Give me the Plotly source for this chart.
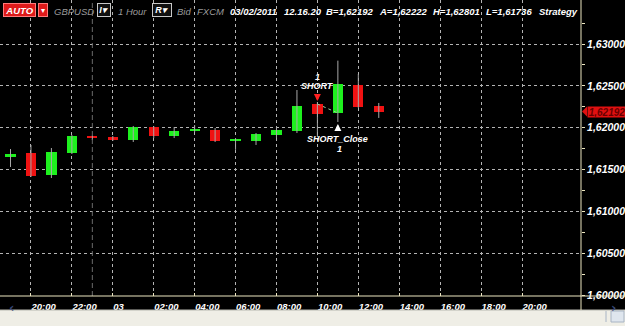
import plotly.graph_objects as go
from datetime import datetime, timedelta

# ---------------- data ----------------
times = ["2011-03-02 19:00", "2011-03-02 20:00", "2011-03-02 21:00", "2011-03-02 22:00",
         "2011-03-02 23:00", "2011-03-03 00:00", "2011-03-03 01:00", "2011-03-03 02:00",
         "2011-03-03 03:00", "2011-03-03 04:00", "2011-03-03 05:00", "2011-03-03 06:00",
         "2011-03-03 07:00", "2011-03-03 08:00", "2011-03-03 09:00", "2011-03-03 10:00",
         "2011-03-03 11:00", "2011-03-03 12:00", "2011-03-03 13:00"]
opens = [1.61649, 1.61697, 1.61434, 1.61697, 1.61893, 1.61888, 1.61853, 1.62008, 1.61900,
         1.61966, 1.61972, 1.61847, 1.61841, 1.61912, 1.61960, 1.62283, 1.62175, 1.62510, 1.62259]
highs = [1.61745, 1.61793, 1.61757, 1.61912, 1.61905, 1.61900, 1.62020, 1.62020, 1.62008,
         1.62032, 1.61996, 1.61876, 1.61936, 1.62008, 1.62450, 1.62307, 1.62801, 1.62641, 1.62295]
lows = [1.61530, 1.61410, 1.61398, 1.61685, 1.61852, 1.61841, 1.61829, 1.61876, 1.61876,
        1.61948, 1.61829, 1.61736, 1.61793, 1.61876, 1.61936, 1.61888, 1.62068, 1.62235, 1.62116]
closes = [1.61685, 1.61422, 1.61709, 1.61900, 1.61883, 1.61853, 1.62008, 1.61900, 1.61960,
          1.61975, 1.61841, 1.61856, 1.61924, 1.61972, 1.62259, 1.62163, 1.62522, 1.62247, 1.62192]

short_entry_time = "2011-03-03 10:00"
short_entry_price = 1.62283
short_exit_time = "2011-03-03 11:00"
short_exit_price = 1.62175
short_exit_bar_low = 1.62068
short_label = "SHORT"
short_close_label = "SHORT_Close"
trade_qty = "1"

session_break_time = "2011-03-02 23:00"
last_price = 1.62192
last_price_label = "1,62192"

x_tick_times = ["2011-03-02 20:00", "2011-03-02 22:00", "2011-03-03 00:00", "2011-03-03 02:00",
                "2011-03-03 04:00", "2011-03-03 06:00", "2011-03-03 08:00", "2011-03-03 10:00",
                "2011-03-03 12:00", "2011-03-03 14:00", "2011-03-03 16:00", "2011-03-03 18:00",
                "2011-03-03 20:00"]
x_tick_labels = ["20:00", "22:00", "03", "02:00", "04:00", "06:00", "08:00", "10:00",
                 "12:00", "14:00", "16:00", "18:00", "20:00"]
y_tick_vals = [1.600, 1.605, 1.610, 1.615, 1.620, 1.625, 1.630]
y_minor_vals = [1.6025, 1.6075, 1.6125, 1.6175, 1.6225, 1.6275, 1.6325]

header_gray = ["GBPUSD", "1 Hour", "Bid", "FXCM"]
header_white = ["03/02/2011", "12.16.20", "B=1,62192", "A=1,62222", "H=1,62801", "L=1,61736", "Strategy"]

# ---------------- styling ----------------
GREEN = "#1ef01e"
RED = "#f01212"
WICK = "#a8a8a8"
AXIS = "#ece6c0"
GRID = "#b4b4b4"
FONT = "Liberation Sans"
PW, PH = 581, 296


def xp(px):
    return px / PW


def yp(py):
    return (PH - py) / PH


fig = go.Figure()

# wicks
wx, wy = [], []
for t, h, l in zip(times, highs, lows):
    wx += [t, t, None]
    wy += [l, h, None]
fig.add_trace(go.Scatter(x=wx, y=wy, mode="lines", line=dict(color=WICK, width=1),
                         hoverinfo="skip"))

# bodies
min_body = 0.00015
body_h, body_base, body_col = [], [], []
for o, c in zip(opens, closes):
    h = max(abs(c - o), min_body)
    body_h.append(h)
    body_base.append((o + c) / 2 - h / 2)
    body_col.append(GREEN if c >= o else RED)
fig.add_trace(go.Bar(x=times, y=body_h, base=body_base, width=1.8e6,
                     marker=dict(color=body_col, line=dict(width=0)), hoverinfo="skip"))

# trade line
fig.add_trace(go.Scatter(x=[short_entry_time, short_exit_time],
                         y=[short_entry_price, short_exit_price], mode="lines",
                         line=dict(color="#9ccf9c", width=1, dash="dot"), hoverinfo="skip"))

base = datetime(2011, 3, 3)
x_range = [base + timedelta(hours=-112.8 / 20.46), base + timedelta(hours=(PW - 112.8) / 20.46)]
y_range = [1.60 - 0.00011952, 1.60 + 295 * 0.00011952]

tick_font = dict(family=FONT, size=9.5, color="white", weight="bold", style="italic")

fig.update_layout(
    width=625, height=326,
    margin=dict(l=0, r=625 - PW, t=0, b=326 - PH),
    paper_bgcolor="black", plot_bgcolor="black",
    showlegend=False, separators=",.", bargap=0,
    xaxis=dict(type="date", range=x_range, tickmode="array", tickvals=x_tick_times,
               ticktext=x_tick_labels, ticks="inside", ticklen=3, tickcolor=AXIS,
               ticklabelposition="outside right", ticklabelstandoff=3, tickfont=tick_font,
               showgrid=True, gridcolor=GRID, griddash="dot", gridwidth=1,
               showline=False, zeroline=False, fixedrange=True),
    yaxis=dict(side="right", range=y_range, tickmode="array", tickvals=y_tick_vals,
               tickformat=".5f", ticks="outside", ticklen=3, tickcolor=AXIS,
               minor=dict(tickmode="array", tickvals=y_minor_vals, ticks="outside",
                          ticklen=3, tickcolor=AXIS, showgrid=False),
               tickfont=dict(family=FONT, size=10.5, color="white", weight="bold", style="italic"),
               showgrid=True, gridcolor=GRID, griddash="dot", gridwidth=1,
               showline=False, zeroline=False, fixedrange=True),
)

shapes = []
# session break dashed line
shapes.append(dict(type="line", xref="x", yref="paper", x0=session_break_time, x1=session_break_time,
                   y0=0, y1=1, line=dict(color="#6a6a6a", width=1, dash="5px,3px")))
# bottom strip (scrollbar)
shapes.append(dict(type="rect", xref="paper", yref="paper", x0=0, x1=xp(625), y0=yp(327), y1=yp(310),
                   fillcolor="#efeee6", line=dict(width=0), layer="above"))
shapes.append(dict(type="line", xref="paper", yref="paper", x0=0, x1=xp(625), y0=yp(310), y1=yp(310),
                   line=dict(color="#b8b8b0", width=1)))
shapes.append(dict(type="rect", xref="paper", yref="paper", x0=xp(611), x1=xp(624), y0=yp(322), y1=yp(311),
                   fillcolor="#dfe6ee", line=dict(color="#a8b4c4", width=1)))
shapes.append(dict(type="line", xref="paper", yref="paper", x0=xp(606), x1=xp(606), y0=yp(322), y1=yp(311),
                   line=dict(color="#a8b4c4", width=1)))
# axis lines
shapes.append(dict(type="line", xref="paper", yref="paper", x0=0, x1=xp(625), y0=0, y1=0,
                   line=dict(color=AXIS, width=1)))
shapes.append(dict(type="line", xref="paper", yref="paper", x0=1, x1=1, y0=yp(310), y1=1,
                   line=dict(color=AXIS, width=1)))
# last price marker pointer
shapes.append(dict(type="path", xref="paper", yref="y",
                   path=f"M {xp(582)},{last_price} L {xp(587)},{last_price + 0.0006} "
                        f"L {xp(587)},{last_price - 0.0006} Z",
                   fillcolor="#e01010", line=dict(width=0)))
fig.update_layout(shapes=shapes)

ann = []
bold_white = dict(family=FONT, size=9.5, color="white", weight="bold", style="italic")
gray_font = dict(family=FONT, size=9.5, color="#9a9a9a", style="italic")

# header: AUTO box
ann.append(dict(xref="paper", yref="paper", x=xp(3), y=yp(10), xanchor="left", yanchor="middle",
                text="AUTO", showarrow=False, width=31, height=12, bgcolor="#dd1a1a",
                bordercolor="#ff7a7a", borderwidth=1, borderpad=0, font=bold_white))
ann.append(dict(xref="paper", yref="paper", x=xp(38), y=yp(10), xanchor="left", yanchor="middle",
                text="▾", showarrow=False, width=8, height=12, bgcolor="#dd1a1a",
                bordercolor="#ff7a7a", borderwidth=1, borderpad=0,
                font=dict(family="DejaVu Sans", size=8, color="white")))
gray_pos = [53, 117, 176, 196]
for txt, px in zip(header_gray, gray_pos):
    ann.append(dict(xref="paper", yref="paper", x=xp(px), y=yp(11), xanchor="left", yanchor="middle",
                    text=txt, showarrow=False, font=gray_font, borderpad=0))
for txt, px0, w in [("I▾", 97, 12), ("R▾", 152, 18)]:
    ann.append(dict(xref="paper", yref="paper", x=xp(px0), y=yp(10), xanchor="left", yanchor="middle",
                    text=txt, showarrow=False, width=w, height=12, bgcolor="#101010",
                    bordercolor="#c8c8c8", borderwidth=1, borderpad=0,
                    font=dict(family=FONT, size=9, color="white", weight="bold", style="italic")))
white_pos = [229, 283, 325, 378, 432, 485, 538]
for txt, px in zip(header_white, white_pos):
    ann.append(dict(xref="paper", yref="paper", x=xp(px), y=yp(11), xanchor="left", yanchor="middle",
                    text=txt, showarrow=False, font=bold_white, borderpad=0))

# strategy annotations
sig_font = dict(family=FONT, size=9, color="white", weight="bold", style="italic")
ann.append(dict(x=short_entry_time, y=short_entry_price, text="", showarrow=True, ax=0, ay=-9,
                arrowhead=2, arrowsize=0.7, arrowwidth=2, arrowcolor="#ff2020", standoff=3))
ann.append(dict(x=short_entry_time, y=short_entry_price, text=short_label, showarrow=False,
                yshift=18, font=sig_font, yanchor="middle"))
ann.append(dict(x=short_entry_time, y=short_entry_price, text=trade_qty, showarrow=False,
                yshift=27, font=sig_font, yanchor="middle"))
ann.append(dict(x=short_exit_time, y=short_exit_bar_low, text="", showarrow=True, ax=0, ay=9,
                arrowhead=2, arrowsize=0.7, arrowwidth=2, arrowcolor="white", standoff=2))
ann.append(dict(x=short_exit_time, y=short_exit_bar_low, text=short_close_label, showarrow=False,
                yshift=-17, font=sig_font, yanchor="middle"))
ann.append(dict(x=short_exit_time, y=short_exit_bar_low, text=trade_qty, showarrow=False,
                yshift=-27, xshift=2, font=sig_font, yanchor="middle"))

# last price label
ann.append(dict(xref="paper", yref="y", x=xp(587), y=last_price, xanchor="left", yanchor="middle",
                text=last_price_label, showarrow=False, bgcolor="#e01010", borderpad=0, height=10,
                width=38, font=dict(family=FONT, size=10, color="#6a0000", weight="bold", style="italic")))

# scroll buttons
ann.append(dict(xref="paper", yref="paper", x=xp(7), y=yp(317), text="‹", showarrow=False,
                font=dict(family="DejaVu Sans", size=13, color="#3a4a7a", weight="bold")))
ann.append(dict(xref="paper", yref="paper", x=xp(617.5), y=yp(316.5), text="›", showarrow=False,
                font=dict(family="DejaVu Sans", size=13, color="#3a4a7a", weight="bold")))

fig.update_layout(annotations=ann)

fig.write_html("out.html")
